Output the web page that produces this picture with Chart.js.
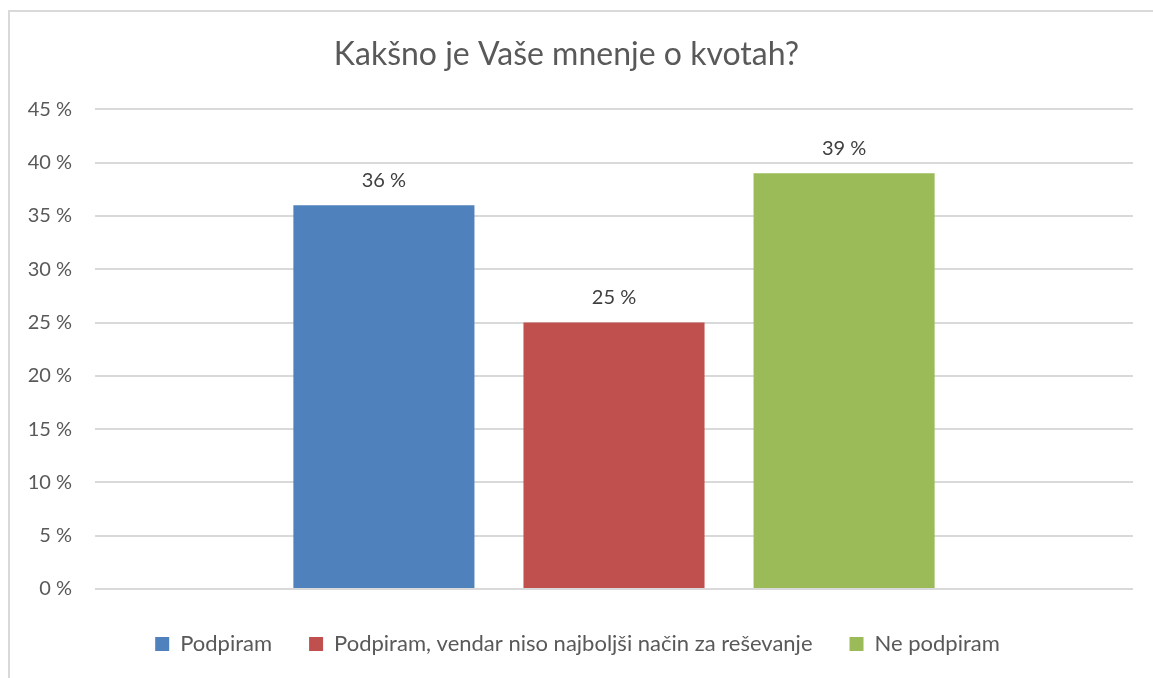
<!DOCTYPE html>
<html>
<head>
<meta charset="utf-8">
<script src="https://cdn.jsdelivr.net/npm/chart.js@4.4.1/dist/chart.umd.min.js"></script>
<style>
  html, body { margin: 0; padding: 0; background: #fff; overflow: hidden; }
  #wrap { position: relative; width: 1153px; height: 678px; }
  #frame { position: absolute; left: 8px; top: 10px; width: 1300px; height: 800px;
           border-left: 2px solid #d9d9d9; border-top: 2px solid #d9d9d9; pointer-events: none; }
</style>
</head>
<body>
<div id="wrap">
  <canvas id="c" width="1153" height="678"></canvas>
  <div id="frame"></div>
</div>
<script>
const chartTitle = 'Kakšno je Vaše mnenje o kvotah?';
const categories = [''];
const seriesNames = ['Podpiram', 'Podpiram, vendar niso najboljši način za reševanje', 'Ne podpiram'];
const seriesValues = [36, 25, 39];
const seriesColors = ['#4F81BD', '#C0504D', '#9BBB59'];
const yTicks = [0, 5, 10, 15, 20, 25, 30, 35, 40, 45];

const FONT = 'Lato, "Open Sans", sans-serif';
const TEXT = '#595959';

const valueLabels = {
  id: 'valueLabels',
  afterLayout(chart) {
    // legend box in the original is centred on the full chart frame
    if (chart.legend) { chart.legend.left += 11; chart.legend.right += 11; }
  },
  afterDatasetsDraw(chart) {
    const ctx = chart.ctx;
    ctx.save();
    ctx.font = '20px ' + FONT;
    ctx.fillStyle = '#404040';
    ctx.textAlign = 'center';
    ctx.textBaseline = 'middle';
    chart.data.datasets.forEach((ds, i) => {
      const meta = chart.getDatasetMeta(i);
      meta.data.forEach((bar, j) => {
        ctx.fillText(ds.data[j] + ' %', bar.x, bar.y - 25);
      });
    });
    ctx.restore();
  }
};

new Chart(document.getElementById('c'), {
  type: 'bar',
  data: {
    labels: categories,
    datasets: seriesNames.map((name, i) => ({
      label: name,
      data: [seriesValues[i]],
      backgroundColor: seriesColors[i],
      borderWidth: 0,
      barPercentage: 0.787,
      categoryPercentage: 0.665
    }))
  },
  options: {
    responsive: false,
    animation: false,
    devicePixelRatio: 1,
    layout: { padding: { left: 0, right: 20, top: 0, bottom: 13 } },
    plugins: {
      title: {
        display: true,
        text: chartTitle,
        color: TEXT,
        font: { family: FONT, size: 32, weight: 'normal' },
        padding: { top: 35, bottom: 36 }
      },
      legend: {
        position: 'bottom',
        labels: {
          color: TEXT,
          font: { family: FONT, size: 22 },
          boxWidth: 14,
          boxHeight: 14,
          padding: 37
        }
      },
      tooltip: { enabled: false }
    },
    scales: {
      x: {
        display: true,
        grid: { display: false },
        border: { display: false },
        ticks: { display: false },
        afterFit(scale) { scale.height = 7; }
      },
      y: {
        min: 0,
        max: 45,
        afterBuildTicks(scale) { scale.ticks = yTicks.map(v => ({ value: v })); },
        afterFit(scale) { scale.width = 95; },
        border: { display: false },
        grid: { color: '#d9d9d9', lineWidth: 2, drawTicks: false },
        ticks: {
          color: TEXT,
          font: { family: FONT, size: 20 },
          padding: 23,
          callback: v => v + ' %'
        }
      }
    }
  },
  plugins: [valueLabels]
});
</script>
</body>
</html>
